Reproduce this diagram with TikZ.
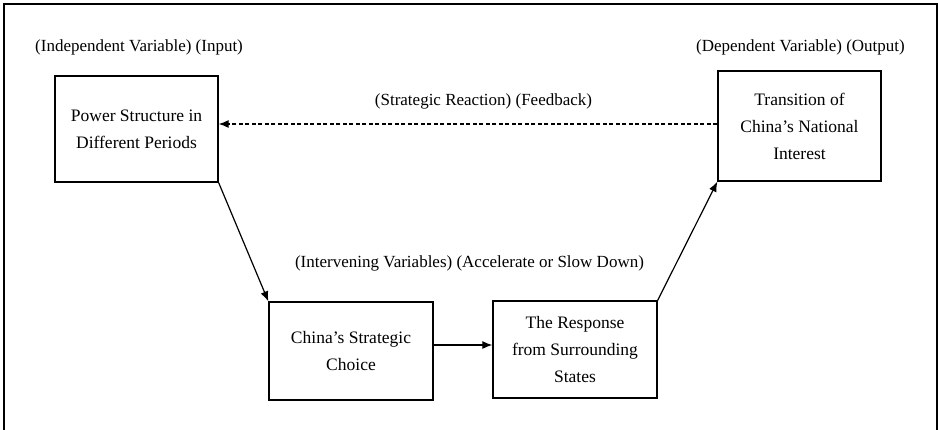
\documentclass[tikz,border=0pt]{standalone}
\usepackage{fontspec}
\setmainfont{Liberation Serif}
\usetikzlibrary{arrows.meta}
\begin{document}
\begin{tikzpicture}[x=1pt,y=-1pt,
  boxnode/.style={draw,line width=1.3pt,inner sep=0pt,align=center,font=\fontsize{17.5}{27}\selectfont},
  lbl/.style={inner sep=0pt,font=\fontsize{17}{20}\selectfont},
  conn/.style={line width=1.2pt,-{Latex[length=10pt,width=8pt]}}]
\useasboundingbox (0,0) rectangle (938,429);
\draw[line width=2.2pt] (4,440) -- (4,4) -- (937,4) -- (937,440);
\node[boxnode,minimum width=163pt,minimum height=106pt] (ps) at (136.5,129) {Power Structure in\\Different Periods};
\node[boxnode,minimum width=163pt,minimum height=110pt] (tr) at (799.5,126) {Transition of\\China’s National\\Interest};
\node[boxnode,minimum width=164pt,minimum height=98pt] (cs) at (351,351) {China’s Strategic\\Choice};
\node[boxnode,minimum width=164pt,minimum height=97pt] (rs) at (575,349.5) {The Response\\from Surrounding\\States};
\node[lbl,anchor=west] (l1) at (35,47) {(Independent Variable) (Input)};
\node[lbl,anchor=east] (l2) at (905,47) {(Dependent Variable) (Output)};
\node[lbl] (l3) at (483.5,101) {(Strategic Reaction) (Feedback)};
\node[lbl] (l4) at (469.5,263) {(Intervening Variables) (Accelerate or Slow Down)};
\draw[conn,dashed,dash pattern=on 4pt off 2.5pt] (tr.west |- 0,124) -- (ps.east |- 0,124);
\draw[conn] (ps.south east) -- (cs.north west);
\draw[conn] (cs.east |- 0,345) -- (rs.west |- 0,345);
\draw[conn] (rs.north east) -- (tr.south west);
\end{tikzpicture}
\end{document}
